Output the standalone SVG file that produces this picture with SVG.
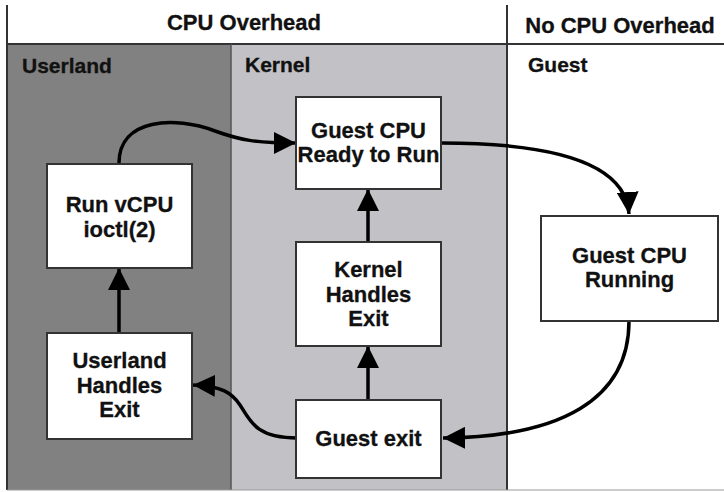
<svg xmlns="http://www.w3.org/2000/svg" width="724" height="492" viewBox="0 0 724 492">
<style>
.lbl{font-family:"Liberation Sans",Arial,sans-serif;font-weight:bold;font-size:21px;fill:#111;stroke:#111;stroke-width:0.3}
.hdr{font-family:"Liberation Sans",Arial,sans-serif;font-weight:bold;font-size:22px;fill:#111;stroke:#111;stroke-width:0.3;text-anchor:middle}
.box{fill:#fff;stroke:#333;stroke-width:2}
.ntx{font-family:"Liberation Sans",Arial,sans-serif;font-weight:bold;font-size:22px;fill:#111;stroke:#111;stroke-width:0.3;text-anchor:middle}
.con{fill:none;stroke:#000;stroke-width:3.5}
</style>
<defs>
<marker id="ah" markerUnits="userSpaceOnUse" markerWidth="24" markerHeight="22" refX="22" refY="11" orient="auto">
<path d="M0,0 L22,11 L0,22 Z" fill="#000"/>
</marker>
</defs>
<g id="background">
<rect x="0" y="0" width="724" height="492" fill="#fff"/>
<rect x="8" y="44" width="223" height="446" fill="#818181"/>
<rect x="231" y="44" width="276" height="446" fill="#c2c2c6"/>
<line x1="7" y1="5" x2="7" y2="490" stroke="#333" stroke-width="2"/>
<line x1="507" y1="5" x2="507" y2="490" stroke="#333" stroke-width="2"/>
<line x1="7" y1="44" x2="724" y2="44" stroke="#333" stroke-width="2"/>
<line x1="231" y1="44" x2="231" y2="490" stroke="#555" stroke-width="1.5"/>
<line x1="7" y1="490" x2="724" y2="490" stroke="#999" stroke-width="1"/>
<text class="hdr" x="244" y="30">CPU Overhead</text>
<text class="hdr" x="620" y="33">No CPU Overhead</text>
<text class="lbl" x="22" y="73">Userland</text>
<text class="lbl" x="245" y="72">Kernel</text>
<text class="lbl" x="528" y="72">Guest</text>
</g>
<g id="connectors">
<path class="con" marker-end="url(#ah)" d="M119,163 C119,118 175,116 215,131 C240,140 255,143 296,143"/>
<path class="con" marker-end="url(#ah)" d="M441,143 C560,143 626,165 629,214"/>
<path class="con" marker-end="url(#ah)" d="M629,321 C629,400 560,437 443,438"/>
<path class="con" marker-end="url(#ah)" d="M297,438 C255,438 250,420 240,405 C232,393 222,386 193,385"/>
<path class="con" marker-end="url(#ah)" d="M368,400 L368,346"/>
<path class="con" marker-end="url(#ah)" d="M368,242 L368,189"/>
<path class="con" marker-end="url(#ah)" d="M119,333 L119,268"/>
</g>
<g id="run-vcpu">
<rect class="box" x="47" y="164" width="145" height="104"/>
<text class="ntx" x="119.5" y="212">Run vCPU</text>
<text class="ntx" x="119.5" y="237">ioctl(2)</text>
</g>
<g id="guest-cpu-ready">
<rect class="box" x="296" y="97" width="145" height="92"/>
<text class="ntx" x="368.5" y="138">Guest CPU</text>
<text class="ntx" x="368.5" y="162">Ready to Run</text>
</g>
<g id="kernel-handles-exit">
<rect class="box" x="296" y="242" width="145" height="104"/>
<text class="ntx" x="368.5" y="277">Kernel</text>
<text class="ntx" x="368.5" y="302">Handles</text>
<text class="ntx" x="368.5" y="326">Exit</text>
</g>
<g id="guest-exit">
<rect class="box" x="296" y="400" width="145" height="78"/>
<text class="ntx" x="368.5" y="446">Guest exit</text>
</g>
<g id="userland-handles-exit">
<rect class="box" x="47" y="333" width="145" height="106"/>
<text class="ntx" x="119.5" y="368">Userland</text>
<text class="ntx" x="119.5" y="393">Handles</text>
<text class="ntx" x="119.5" y="417">Exit</text>
</g>
<g id="guest-cpu-running">
<rect class="box" x="541" y="216" width="177" height="105"/>
<text class="ntx" x="629.5" y="263">Guest CPU</text>
<text class="ntx" x="629.5" y="287">Running</text>
</g>
</svg>
